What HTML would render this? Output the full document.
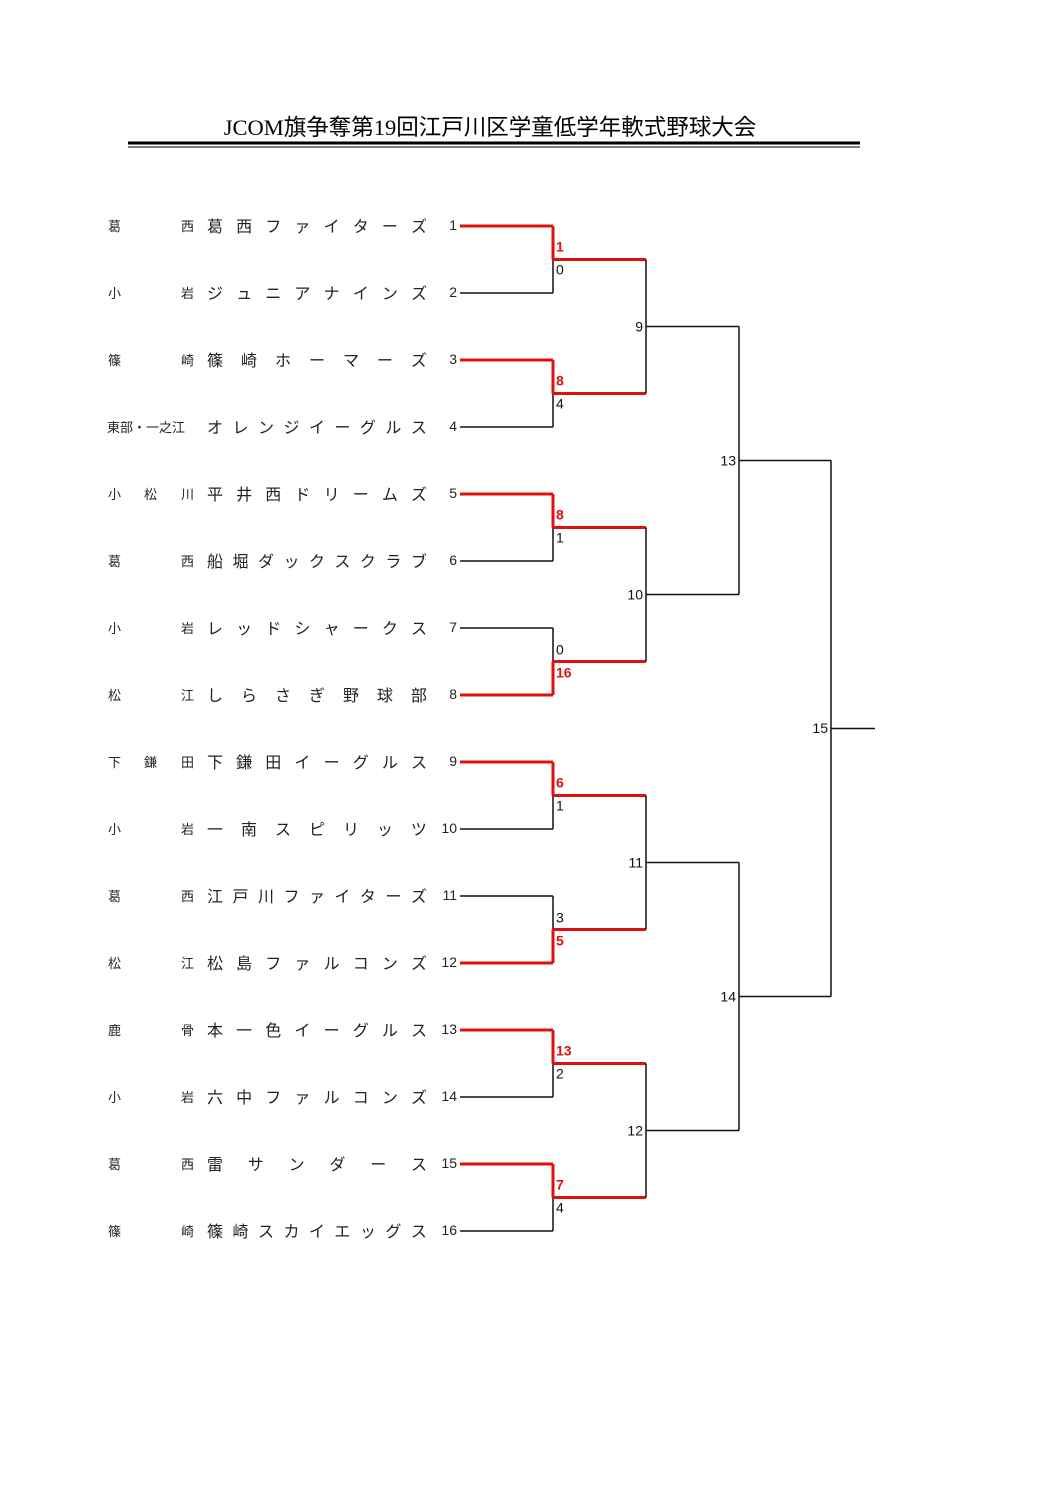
<!DOCTYPE html>
<html><head><meta charset="utf-8"><style>
body{margin:0;background:#fff;width:1058px;height:1497px;position:relative;overflow:hidden;font-family:"Liberation Sans","Noto Sans CJK JP",sans-serif;color:#222}
.t{position:absolute;left:0;width:980px;top:110px;text-align:center;font-size:22.5px;font-family:"Liberation Serif","Noto Sans CJK JP",sans-serif;color:#000;letter-spacing:0px}
.row{position:absolute;left:0;height:20px;white-space:nowrap}
.p1,.p2,.p3{position:absolute;font-size:13px;top:0px;white-space:nowrap}
.nm{position:absolute;left:207px;width:220px;display:flex;justify-content:space-between;font-size:16px;top:-3px}
.no{position:absolute;left:425px;width:32px;text-align:right;font-size:14px;top:1px}
svg{position:absolute;left:0;top:0}
</style></head><body>
<div class="t">JCOM旗争奪第19回江戸川区学童低学年軟式野球大会</div>
<div id="rows"></div>
<svg width="1058" height="1497" font-family="Liberation Sans, sans-serif" font-size="14">
<line x1="128" y1="143" x2="860" y2="143" stroke="#000" stroke-width="3"/>
<line x1="128" y1="147" x2="860" y2="147" stroke="#000" stroke-width="1"/>
<g id="br"></g>
</svg>
<script>
var pre=[["葛","","西"],["小","","岩"],["篠","","崎"],["東部・一之江","",""],["小","松","川"],["葛","","西"],["小","","岩"],["松","","江"],["下","鎌","田"],["小","","岩"],["葛","","西"],["松","","江"],["鹿","","骨"],["小","","岩"],["葛","","西"],["篠","","崎"]];
var nm=["葛西ファイターズ","ジュニアナインズ","篠崎ホーマーズ","オレンジイーグルス","平井西ドリームズ","船堀ダックスクラブ","レッドシャークス","しらさぎ野球部","下鎌田イーグルス","一南スピリッツ","江戸川ファイターズ","松島ファルコンズ","本一色イーグルス","六中ファルコンズ","雷サンダース","篠崎スカイエッグス"];
var h="";
for(var i=0;i<16;i++){var y=226+67*i;var p=pre[i];
h+='<div class="row" style="top:'+(y-10)+'px">';
if(i==3)h+='<span class="p1" style="left:107px">東部・一之江</span>';
else{h+='<span class="p1" style="left:108px">'+p[0]+'</span>';if(p[1])h+='<span class="p2" style="left:144px">'+p[1]+'</span>';h+='<span class="p3" style="left:181px">'+p[2]+'</span>';}
h+='<div class="nm">';for(var c of nm[i]){h+='<span>'+c+'</span>';}h+='</div>';
h+='<span class="no">'+(i+1)+'</span></div>';}
document.getElementById('rows').innerHTML=h;
var s="",R="#e01010",K="#111";
function L(x1,y1,x2,y2,c,w){s+='<line x1="'+x1+'" y1="'+y1+'" x2="'+x2+'" y2="'+y2+'" stroke="'+c+'" stroke-width="'+w+'"/>';}
function T(x,y,t,c,b,a){s+='<text x="'+x+'" y="'+y+'" fill="'+c+'"'+(b?' font-weight="bold"':'')+(a?' text-anchor="end"':'')+'>'+t+'</text>';}
var sc=[[1,0,0],[8,4,0],[8,1,0],[16,0,1],[6,1,0],[5,3,1],[13,2,0],[7,4,0]];
for(var m=0;m<8;m++){var a=226+134*m,b=a+67,mid=(a+b)/2;var bw=sc[m][2];
L(460,a,553,a,bw?K:R,bw?1.5:3);L(460,b,553,b,bw?R:K,bw?3:1.5);
L(553,a,553,mid,bw?K:R,bw?1.5:3);L(553,mid,553,b,bw?R:K,bw?3:1.5);
L(553,mid,646,mid,R,3);
if(!bw){T(556,mid-8,sc[m][0],R,1);T(556,mid+15,sc[m][1],K);}
else{T(556,mid-7,sc[m][1],K);T(556,mid+16,sc[m][0],R,1);}}
for(var k=0;k<4;k++){var a=259.5+268*k,b=a+134,mid=(a+b)/2;L(646,a,646,b,K,1.5);L(646,mid,739,mid,K,1.5);T(643,mid+5,9+k,K,0,1);}
for(var k=0;k<2;k++){var a=326.5+536*k,b=a+268,mid=(a+b)/2;L(739,a,739,b,K,1.5);L(739,mid,831,mid,K,1.5);T(736,mid+5,13+k,K,0,1);}
L(831,460.5,831,996.5,K,1.5);L(831,728.5,875,728.5,K,1.5);T(828,733,15,K,0,1);
document.getElementById('br').innerHTML=s;
</script>
</body></html>
